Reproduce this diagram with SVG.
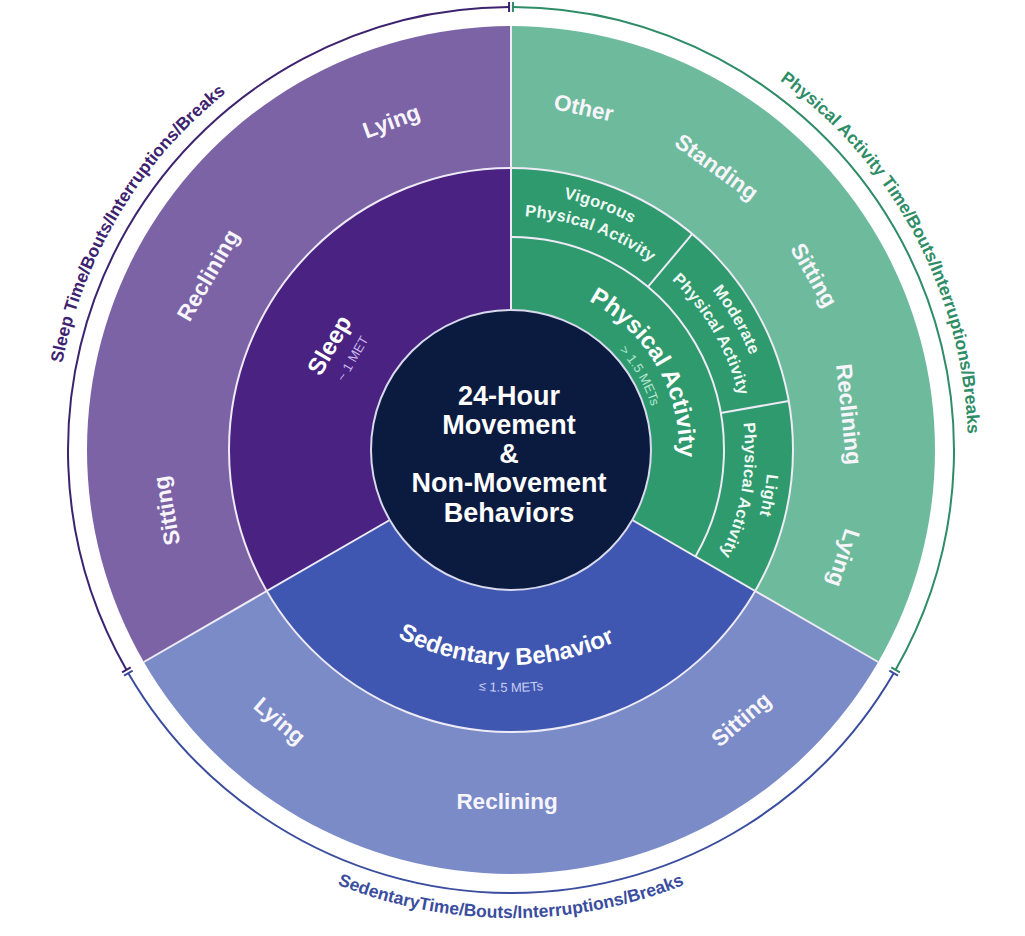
<svg xmlns="http://www.w3.org/2000/svg" width="1025" height="936" viewBox="0 0 1025 936">
<style>
text { font-family: "Liberation Sans", Arial, Helvetica, sans-serif; }
.pos { font-size: 22.5px; font-weight: bold; fill: #f7f5fb; text-anchor: middle; }
.main { font-size: 24px; font-weight: bold; fill: #ffffff; text-anchor: middle; }
.sub { font-size: 13px; text-anchor: middle; }
.pa2 { font-size: 16.5px; font-weight: bold; fill: #eef9f3; text-anchor: middle; letter-spacing: 0.3px; }
.arcT { font-size: 17.5px; font-weight: bold; text-anchor: middle; }
.ctr { font-size: 27px; font-weight: bold; fill: #ffffff; text-anchor: middle; }
.div { stroke: #eeeaf6; stroke-width: 2; fill: none; }
.ring { fill: none; stroke-width: 2; }
</style>
<defs>
<path id="pSleepArc" d="M115.23 678.5 A457 457 0 0 1 511 -7"/>
<path id="pPaArc" d="M511 -7 A457 457 0 0 1 906.77 678.5"/>
<path id="pSbArc" d="M105.70 684 A468 468 0 0 0 916.30 684"/>
<path id="pPaMain" d="M511 282 A168 168 0 0 1 656.49 534"/>
<path id="pPaSub" d="M511 303 A147 147 0 0 1 638.31 523.5"/>
<path id="pSbMain" d="M298.82 542.5 A245 245 0 0 0 723.18 542.5"/>
<path id="pSbSub" d="M275.44 556 A272 272 0 0 0 746.56 556"/>
<path id="pVig1" d="M511 193 A257 257 0 0 1 676.20 253.13"/>
<path id="pVig2" d="M511 216 A234 234 0 0 1 661.41 270.75"/>
<path id="pMod1" d="M676.20 253.13 A257 257 0 0 1 764.10 405.37"/>
<path id="pMod2" d="M661.41 270.75 A234 234 0 0 1 741.44 409.37"/>
<path id="pLig1" d="M764.10 405.37 A257 257 0 0 1 733.57 578.5"/>
<path id="pLig2" d="M741.44 409.37 A234 234 0 0 1 713.65 567"/>
</defs>
<rect width="1025" height="936" fill="#ffffff"/>

<g id="sleep-postures">
<path d="M511 450 L143.81 662 A424 424 0 0 1 511 26 Z" fill="#7b63a6"/>
<text class="pos" transform="translate(166.32 510.78) rotate(-100)" dy="0.35em">Sitting</text>
<text class="pos" transform="translate(207.89 275) rotate(-60)" dy="0.35em">Reclining</text>
<text class="pos" transform="translate(391.29 121.11) rotate(-20)" dy="0.35em">Lying</text>
</g>
<g id="pa-postures">
<path d="M511 450 L511 26 A424 424 0 0 1 878.19 662 Z" fill="#6dbb9c"/>
<text class="pos" transform="translate(583.77 107.65) rotate(12)" dy="0.35em">Other</text>
<text class="pos" transform="translate(716.72 166.84) rotate(36)" dy="0.35em">Standing</text>
<text class="pos" transform="translate(814.11 275) rotate(60)" dy="0.35em">Sitting</text>
<text class="pos" transform="translate(849.13 414.25) rotate(84)" dy="0.35em">Reclining</text>
<text class="pos" transform="translate(843.87 558.16) rotate(108)" dy="0.35em">Lying</text>
</g>
<g id="sb-postures">
<path d="M511 450 L878.19 662 A424 424 0 0 1 143.81 662 Z" fill="#7a8bc8"/>
<text class="pos" transform="translate(279.8 720.7) rotate(40.5)" dy="0.35em">Lying</text>
<text class="pos" transform="translate(507 801) rotate(0)" dy="0.35em">Reclining</text>
<text class="pos" transform="translate(740.9 719.2) rotate(-40.5)" dy="0.35em">Sitting</text>
</g>

<g id="sleep">
<path d="M511 450 L266.78 591 A282 282 0 0 1 511 168 Z" fill="#4a2282"/>
<text class="main" transform="translate(329.13 345) rotate(-60)" dy="0.35em">Sleep</text>
<text class="sub" fill="#cbb8ec" transform="translate(352.52 358.5) rotate(-60)" dy="0.35em">~ 1 MET</text>
</g>
<g id="physical-activity">
<path d="M511 450 L511 168 A282 282 0 0 1 755.22 591 Z" fill="#2e9a6e"/>
<text class="main" font-size="23"><textPath href="#pPaMain" startOffset="50%">Physical Activity</textPath></text>
<text class="sub" font-size="12.5" fill="#b3e6cf"><textPath href="#pPaSub" startOffset="50%">&gt; 1.5 METs</textPath></text>
</g>
<g id="pa-vigorous">
<text class="pa2"><textPath href="#pVig1" startOffset="50%">Vigorous</textPath></text>
<text class="pa2"><textPath href="#pVig2" startOffset="50%">Physical Activity</textPath></text>
</g>
<g id="pa-moderate">
<text class="pa2"><textPath href="#pMod1" startOffset="50%">Moderate</textPath></text>
<text class="pa2"><textPath href="#pMod2" startOffset="50%">Physical Activity</textPath></text>
</g>
<g id="pa-light">
<text class="pa2"><textPath href="#pLig1" startOffset="50%">Light</textPath></text>
<text class="pa2"><textPath href="#pLig2" startOffset="50%">Physical Activity</textPath></text>
</g>
<g id="sedentary">
<path d="M511 450 L755.22 591 A282 282 0 0 1 266.78 591 Z" fill="#3f57b1"/>
<text class="main"><textPath href="#pSbMain" startOffset="49%">Sedentary Behavior</textPath></text>
<text class="sub" fill="#c9d0f2"><textPath href="#pSbSub" startOffset="50%">≤ 1.5 METs</textPath></text>
</g>

<g id="dividers">
<circle class="div" cx="511" cy="450" r="282"/>
<path class="div" d="M511 237 A213 213 0 0 1 695.46 556.5"/>
<path class="div" d="M511 310 L511 26"/>
<path class="div" d="M632.24 520 L878.19 662"/>
<path class="div" d="M389.76 520 L143.81 662"/>
<path class="div" d="M647.91 286.83 L692.27 233.98"/>
<path class="div" d="M720.76 413.01 L788.72 401.03"/>
</g>

<g id="center">
<circle cx="511" cy="450" r="140" fill="#0b1a3f" stroke="#d9d9ee" stroke-width="2"/>
<text class="ctr" x="509" y="405">24-Hour</text>
<text class="ctr" x="509" y="434">Movement</text>
<text class="ctr" x="509" y="463">&amp;</text>
<text class="ctr" x="509" y="492">Non-Movement</text>
<text class="ctr" x="509" y="522">Behaviors</text>
</g>

<g id="sleep-time">
<path class="ring" stroke="#3d236f" d="M126.39 669.82 A443 443 0 0 1 509.07 7"/>
<path class="ring" stroke="#3d236f" d="M509.09 12 L509.05 2 M130.73 667.34 L122.05 672.30"/>
<text class="arcT" fill="#3d236f"><textPath href="#pSleepArc" startOffset="51%">Sleep Time/Bouts/Interruptions/Breaks</textPath></text>
</g>
<g id="pa-time">
<path class="ring" stroke="#2e8c66" d="M512.93 7 A443 443 0 0 1 895.61 669.82"/>
<path class="ring" stroke="#2e8c66" d="M512.91 12 L512.95 2 M891.27 667.34 L899.95 672.30"/>
<text class="arcT" fill="#2e8c66"><textPath href="#pPaArc" startOffset="51.67%">Physical Activity Time/Bouts/Interruptions/Breaks</textPath></text>
</g>
<g id="sb-time">
<path class="ring" stroke="#3a4d9e" d="M893.68 673.17 A443 443 0 0 1 128.32 673.17"/>
<path class="ring" stroke="#3a4d9e" d="M889.36 670.65 L898.0 675.69 M132.64 670.65 L124.0 675.69"/>
<text class="arcT" fill="#3a4d9e"><textPath href="#pSbArc" startOffset="50%">SedentaryTime/Bouts/Interruptions/Breaks</textPath></text>
</g>
</svg>
